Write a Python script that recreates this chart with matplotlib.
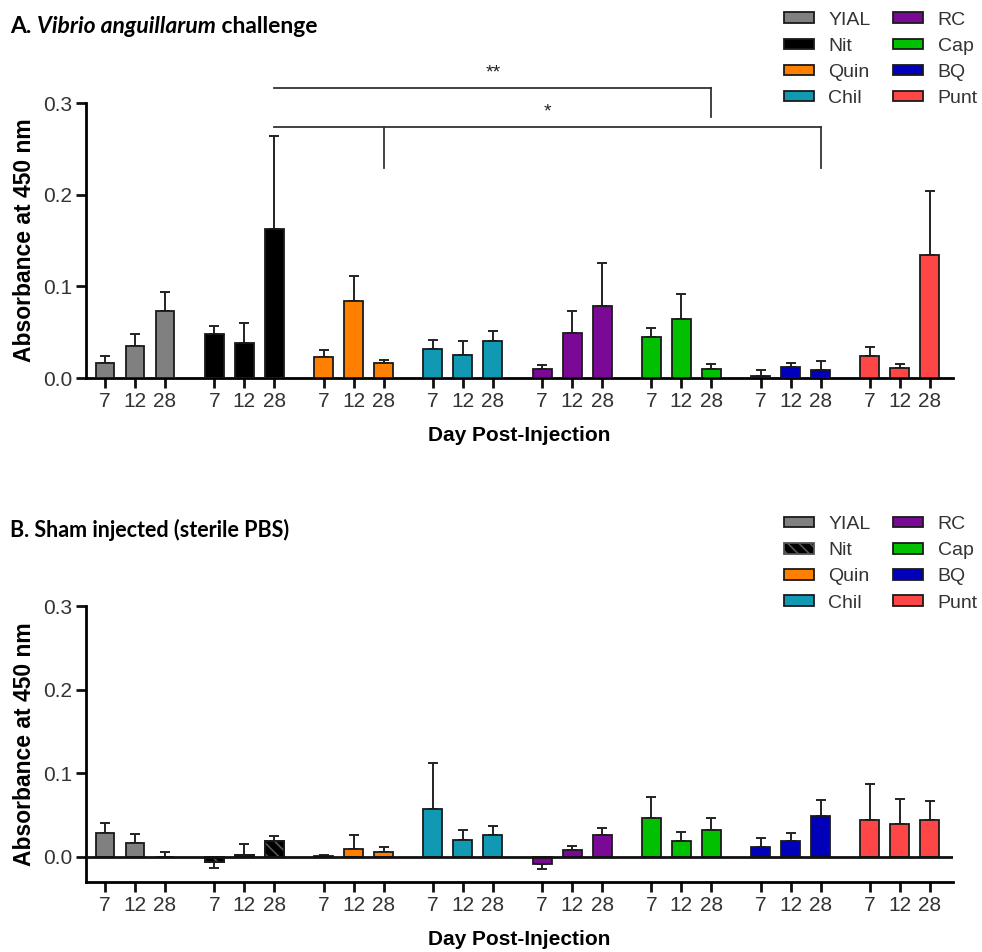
import matplotlib
matplotlib.use("Agg")
import matplotlib.pyplot as plt
from matplotlib.patches import Patch
import numpy as np

plt.rcParams['font.family'] = ['Liberation Sans', 'DejaVu Sans']
plt.rcParams['hatch.linewidth'] = 1.2

# ---------------------------------------------------------------------------
# data
groups = ["YIAL", "Nit", "Quin", "Chil", "RC", "Cap", "BQ", "Punt"]
colors = ["#808080", "#000000", "#FF8000", "#1199B4",
          "#7A0A96", "#00C000", "#0000BB", "#FF4646"]
days = ["7", "12", "28"]

# A. Vibrio anguillarum challenge (mean, error)
vib_mean = [[0.0164, 0.035, 0.0735],
            [0.0476, 0.0378, 0.163],
            [0.0233, 0.084, 0.0164],
            [0.0316, 0.025, 0.040],
            [0.0102, 0.049, 0.079],
            [0.0444, 0.064, 0.0098],
            [0.002, 0.0124, 0.0087],
            [0.0236, 0.011, 0.134]]
vib_err = [[0.0072, 0.0126, 0.020],
           [0.0091, 0.0222, 0.101],
           [0.0072, 0.027, 0.0032],
           [0.0104, 0.015, 0.011],
           [0.004, 0.024, 0.046],
           [0.0106, 0.0276, 0.0051],
           [0.0067, 0.004, 0.0098],
           [0.0099, 0.0043, 0.070]]

# B. Sham injected (sterile PBS)
sham_mean = [[0.0288, 0.0164, 0.0005],
             [-0.006, 0.002, 0.019],
             [0.001, 0.0092, 0.0056],
             [0.057, 0.0208, 0.026],
             [-0.008, 0.0084, 0.026],
             [0.0463, 0.019, 0.032],
             [0.012, 0.0196, 0.0487],
             [0.0447, 0.0388, 0.044]]
sham_err = [[0.0112, 0.0106, 0.0059],
            [0.0068, 0.0136, 0.0058],
            [0.001, 0.0168, 0.006],
            [0.055, 0.0112, 0.0108],
            [0.0068, 0.0052, 0.009],
            [0.0252, 0.011, 0.015],
            [0.0104, 0.0092, 0.0188],
            [0.0423, 0.0299, 0.023]]

# significance brackets: (ref group, ref day idx, [(group, day idx)], label, level, drop)
brackets = [("Nit", 2, [("Cap", 2)], "**", 0.316, 0.285),
            ("Nit", 2, [("Quin", 2), ("BQ", 2)], "*", 0.274, 0.229)]

group_gap = 3.643
bar_w = 0.63


def xpos(g, j):
    return g * group_gap + j


def draw_panel(ax, means, errs, hatch_nit, ylo):
    xs, ys = [], []
    for g, name in enumerate(groups):
        for j in range(3):
            x = xpos(g, j)
            m = means[g][j]
            e = errs[g][j]
            # error bar only on the outer side
            if m >= 0:
                yerr = [[0], [e]]
            else:
                yerr = [[e], [0]]
            ax.errorbar(x, m, yerr=yerr, fmt='none', ecolor='#222222',
                        elinewidth=1.4, capsize=3.5, capthick=1.4, zorder=2)
            ax.bar(x, m, width=bar_w, color=colors[g], edgecolor='#1a1a1a',
                   linewidth=1.3, zorder=3)
            if hatch_nit and name == "Nit":
                ax.bar(x, m, width=bar_w, color='none', edgecolor='#555555',
                       hatch='\\\\\\', linewidth=0, zorder=4)
                ax.bar(x, m, width=bar_w, color='none', edgecolor='#1a1a1a',
                       linewidth=1.3, zorder=5)
            xs.append(x)
            ys.append(days[j])
    ax.set_xticks(xs)
    ax.set_xticklabels(ys, fontsize=15)
    ax.set_xlim(-0.633, xpos(7, 2) + 0.77)
    ax.set_ylim(ylo, 0.3)
    ax.set_yticks([0.0, 0.1, 0.2, 0.3])
    ax.set_yticklabels(["0.0", "0.1", "0.2", "0.3"], fontsize=15)
    for s in ['top', 'right']:
        ax.spines[s].set_visible(False)
    for s in ['left', 'bottom']:
        ax.spines[s].set_linewidth(2)
    ax.spines['left'].set_bounds(ylo, 0.3)
    ax.tick_params(axis='both', width=2, length=7, color='#111111',
                   labelcolor='#333333')
    ax.tick_params(axis='x', pad=3)
    ax.tick_params(axis='y', pad=3)
    ax.set_ylabel("Absorbance at 450 nm", fontsize=16.5, fontweight='bold',
                  labelpad=5)
    ax.set_xlabel("Day Post-Injection", fontsize=15, fontweight='bold',
                  labelpad=11)


fig = plt.figure(figsize=(9.82, 9.52), dpi=100)

ax1 = fig.add_axes([0.0876, 0.6029, 0.8829, 0.2889])
draw_panel(ax1, vib_mean, vib_err, False, 0.0)

ax2 = fig.add_axes([0.0876, 0.0735, 0.8829, 0.2899])
draw_panel(ax2, sham_mean, sham_err, True, -0.03)
ax2.axhline(0, color='#111111', linewidth=2, zorder=6)

# brackets on panel A
for ref, rj, targets, label, level, drop in brackets:
    x0 = xpos(groups.index(ref), rj)
    tx = [xpos(groups.index(t), tj) for t, tj in targets]
    x1 = max(tx)
    ax1.plot([x0, x1], [level, level], color='#333333', lw=1.3, clip_on=False)
    for x in tx:
        ax1.plot([x, x], [level, drop], color='#333333', lw=1.3, clip_on=False)
    ax1.text((x0 + x1) / 2, level + 0.007, label, ha='center', va='bottom',
             fontsize=14, color='#222222', clip_on=False)

# panel titles (A has an italic bold species name in the middle)
title_font = dict(fontsize=16.5, fontweight='bold', family=['Lato', 'DejaVu Sans'])
t_a = fig.text(0.010, 0.965, "A. ", va='baseline', **title_font)
t_b = ax1.annotate("Vibrio anguillarum", xy=(1, 0), xycoords=t_a,
                   va='bottom', style='italic', annotation_clip=False,
                   **title_font)
ax1.annotate(" challenge", xy=(1, 0), xycoords=t_b, va='bottom',
             annotation_clip=False, **title_font)
fig.text(0.010, 0.443, "B. Sham injected (sterile PBS)", fontsize=15.5,
         fontweight='bold', family=['Lato', 'DejaVu Sans'], va='center')

# legends
def make_handles(hatch_nit):
    hs = []
    for name, c in zip(groups, colors):
        if hatch_nit and name == "Nit":
            hs.append(Patch(facecolor=c, edgecolor='#555555', hatch='\\\\\\',
                            linewidth=1.3, label=name))
        else:
            hs.append(Patch(facecolor=c, edgecolor='#1a1a1a', linewidth=1.3,
                            label=name))
    return hs


for hatch_nit, top in [(False, 0.998), (True, 0.468)]:
    leg = fig.legend(handles=make_handles(hatch_nit), ncol=2, loc='upper left',
                     bbox_to_anchor=(0.788, top), frameon=False, fontsize=14,
                     handlelength=1.55, handleheight=0.45, handletextpad=0.75,
                     columnspacing=1.15, labelspacing=0.47, borderpad=0)
    for t in leg.get_texts():
        t.set_color('#333333')

fig.savefig("out.png", dpi=100)
